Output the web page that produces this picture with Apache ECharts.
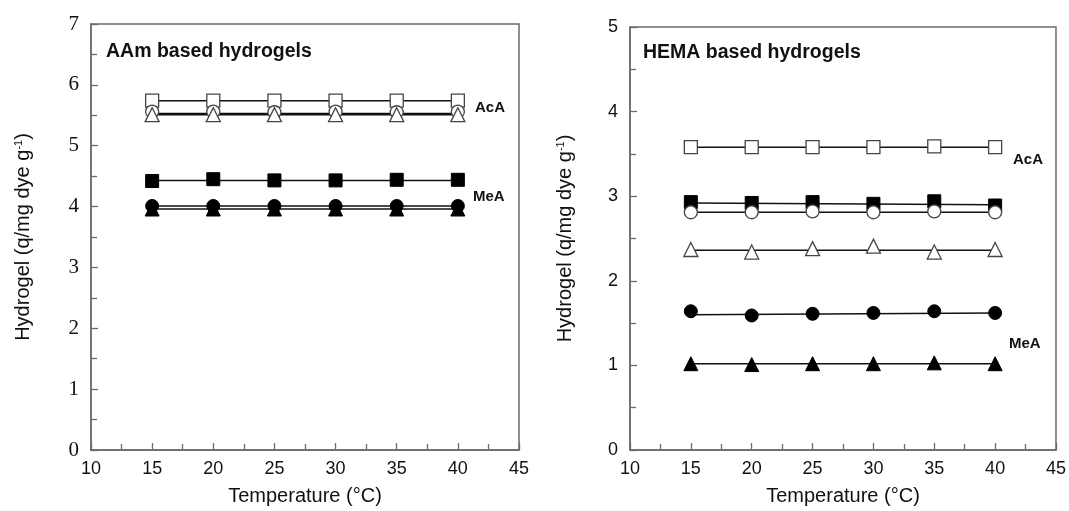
<!DOCTYPE html>
<html>
<head>
<meta charset="utf-8">
<script src="https://cdn.jsdelivr.net/npm/echarts@6/dist/echarts.min.js"></script>
<style>
  html, body { margin: 0; padding: 0; background: #fff; }
  #chart { width: 1069px; height: 511px; }
</style>
</head>
<body>
<div id="chart"></div>
<script>
var dom = document.getElementById("chart");
var myChart = echarts.init(dom);

// temperatures (x)
var temps = [15, 20, 25, 30, 35, 40];

// AAm based hydrogels
var aamOpenSquare = [5.74, 5.74, 5.74, 5.74, 5.74, 5.74];
var aamOpenCircle = [5.56, 5.56, 5.55, 5.56, 5.55, 5.56];
var aamOpenTriangle = [5.51, 5.51, 5.51, 5.51, 5.51, 5.51];
var aamFilledSquare = [4.42, 4.45, 4.43, 4.43, 4.44, 4.44];
var aamFilledCircle = [4.01, 4.01, 4.01, 4.01, 4.01, 4.01];
var aamFilledTriangle = [3.96, 3.96, 3.96, 3.96, 3.96, 3.96];
// fitted lines (value at 15 and at 40), same order as above
var aamLineStart = [5.74, 5.53, 5.51, 4.43, 4.01, 3.96];
var aamLineEnd = [5.74, 5.53, 5.51, 4.43, 4.01, 3.96];

// HEMA based hydrogels
var hemaOpenSquare = [3.58, 3.58, 3.58, 3.58, 3.59, 3.58];
var hemaFilledSquare = [2.93, 2.92, 2.93, 2.91, 2.94, 2.89];
var hemaOpenCircle = [2.81, 2.81, 2.82, 2.81, 2.82, 2.81];
var hemaOpenTriangle = [2.37, 2.34, 2.38, 2.41, 2.34, 2.37];
var hemaFilledCircle = [1.64, 1.59, 1.61, 1.62, 1.64, 1.62];
var hemaFilledTriangle = [1.02, 1.01, 1.02, 1.02, 1.03, 1.02];
var hemaLineStart = [3.58, 2.92, 2.81, 2.36, 1.60, 1.02];
var hemaLineEnd = [3.58, 2.90, 2.81, 2.36, 1.62, 1.02];

var axisColor = '#6b6b6b';
var sans = 'Liberation Sans';
var serif = 'Liberation Serif';

// marker style for each series (shape, open or filled)
var markers = [
	['rect', false], ['circle', false], ['triangle', false],
	['rect', true], ['circle', true], ['triangle', true]
];

function pts(vals) {
	var out = [];
	for (var i = 0; i < temps.length; i++) {
		out.push([temps[i], vals[i]]);
	}
	return out;
}

var series = [];
function addPanel(idx, sets, starts, ends, order) {
	// fitted lines first
	for (var i = 0; i < sets.length; i++) {
		series.push({
			type: 'line',
			xAxisIndex: idx,
			yAxisIndex: idx,
			data: [[temps[0], starts[i]], [temps[temps.length - 1], ends[i]]],
			showSymbol: false,
			symbol: 'none',
			lineStyle: { color: '#111', width: 1.5 },
			silent: true,
			z: 2
		});
	}
	// markers
	for (var j = 0; j < sets.length; j++) {
		var m = markers[order[j]];
		series.push({
			type: 'scatter',
			xAxisIndex: idx,
			yAxisIndex: idx,
			data: pts(sets[j]),
			symbol: m[0],
			symbolSize: m[0] == 'triangle' ? 14 : 13,
			itemStyle: m[1] ? { color: '#000', borderColor: '#000', borderWidth: 1, opacity: 1 }
				: { color: '#fff', borderColor: '#444', borderWidth: 1.3, opacity: 1 },
			z: 3 + j
		});
	}
}

addPanel(0,
	[aamOpenSquare, aamOpenCircle, aamOpenTriangle, aamFilledSquare, aamFilledCircle, aamFilledTriangle],
	aamLineStart, aamLineEnd, [0, 1, 2, 3, 4, 5]);
addPanel(1,
	[hemaOpenSquare, hemaFilledSquare, hemaOpenCircle, hemaOpenTriangle, hemaFilledCircle, hemaFilledTriangle],
	hemaLineStart, hemaLineEnd, [0, 3, 1, 2, 4, 5]);

function xAxis(idx) {
	return {
		type: 'value',
		gridIndex: idx,
		min: 10, max: 45, interval: 5,
		name: 'Temperature (°C)',
		nameLocation: 'middle',
		nameGap: 36,
		nameTextStyle: { fontFamily: sans, fontSize: 20, color: '#111' },
		axisLine: { lineStyle: { color: axisColor, width: 1.5 } },
		axisTick: { inside: true, length: 7, lineStyle: { color: axisColor, width: 1.3 } },
		minorTick: { show: true, splitNumber: 2, length: 6, lineStyle: { color: axisColor, width: 1.3 } },
		axisLabel: { fontFamily: sans, fontSize: 18, color: '#111', margin: 10 },
		splitLine: { show: false }
	};
}

function yAxis(idx, max, labelFont) {
	return {
		type: 'value',
		gridIndex: idx,
		min: 0, max: max, interval: 1,
		name: 'Hydrogel (q/mg dye g{sup|-1})',
		nameLocation: 'middle',
		nameGap: idx == 0 ? 57 : 54,
		nameRotate: 90,
		nameTextStyle: {
			fontFamily: sans, fontSize: 20, color: '#111',
			rich: { sup: { fontFamily: sans, fontSize: 11, color: '#111', padding: [0, 0, 10, 0] } }
		},
		axisLine: { lineStyle: { color: axisColor, width: 1.5 } },
		axisTick: { inside: true, length: 7, lineStyle: { color: axisColor, width: 1.3 } },
		minorTick: { show: true, splitNumber: 2, length: 6, lineStyle: { color: axisColor, width: 1.3 } },
		axisLabel: { fontFamily: labelFont, fontSize: labelFont == serif ? 21 : 18, color: '#111', margin: 12 },
		splitLine: { show: false }
	};
}

option = {
	backgroundColor: '#fff',
	animation: false,
	grid: [
		{ left: 91, top: 24, width: 428, height: 427, show: true, borderColor: axisColor, borderWidth: 1.5, backgroundColor: 'transparent' },
		{ left: 630, top: 27, width: 429, height: 425, show: true, borderColor: axisColor, borderWidth: 1.5, backgroundColor: 'transparent' }
	],
	xAxis: [xAxis(0), xAxis(1)],
	yAxis: [yAxis(0, 7, serif), yAxis(1, 5, sans)],
	series: series,
	graphic: [
		{ type: 'text', left: 106, top: 42, style: { text: 'AAm based hydrogels', font: 'bold 19.5px "Liberation Sans"', fill: '#111' } },
		{ type: 'text', left: 643, top: 43, style: { text: 'HEMA based hydrogels', font: 'bold 19.5px "Liberation Sans"', fill: '#111' } },
		{ type: 'text', left: 475, top: 100, style: { text: 'AcA', font: 'bold 15px "Liberation Sans"', fill: '#111' } },
		{ type: 'text', left: 473, top: 189, style: { text: 'MeA', font: 'bold 15px "Liberation Sans"', fill: '#111' } },
		{ type: 'text', left: 1013, top: 152, style: { text: 'AcA', font: 'bold 15px "Liberation Sans"', fill: '#111' } },
		{ type: 'text', left: 1009, top: 336, style: { text: 'MeA', font: 'bold 15px "Liberation Sans"', fill: '#111' } }
	]
};
if (option && typeof option === "object") {
	myChart.setOption(option, true);
}
</script>
</body>
</html>
